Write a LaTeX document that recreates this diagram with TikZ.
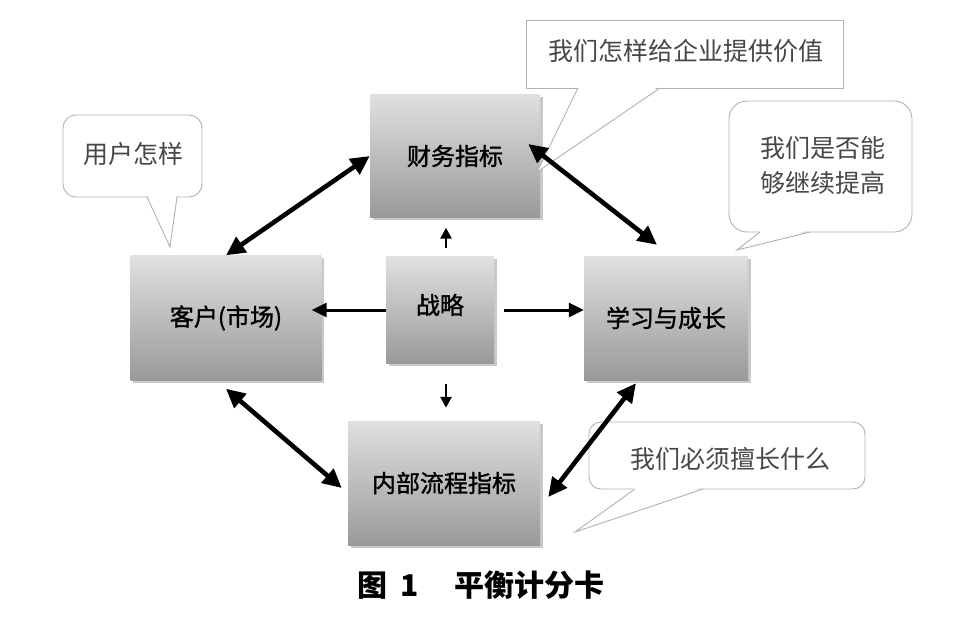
\documentclass[tikz,border=0pt]{standalone}
\usepackage{fontspec}
\newfontfamily\cjk{Noto Sans CJK SC}
\newfontfamily\cjkm[FakeBold=1.3]{Noto Sans CJK SC}
\usetikzlibrary{arrows.meta,shadows,calc}
\tikzset{
  box/.style={rectangle, draw=none, top color=black!12, bottom color=black!40,
    drop shadow={shadow xshift=2.5pt, shadow yshift=-2.5pt, fill=black!35, opacity=0.6},
    font=\cjkm\fontsize{24}{28}\selectfont, text=black, inner sep=0pt},
  dbl/.style={{Triangle[length=19pt,width=18pt]}-{Triangle[length=19pt,width=18pt]}, line width=4.6pt, black},
  onearrow/.style={-{Triangle[length=15pt,width=14pt]}, line width=3pt, black},
  smallarrow/.style={-{Triangle[length=11pt,width=11pt]}, line width=2.6pt, black},
  co/.style={draw=black!30, line width=0.9pt, fill=white},
  coline/.style={draw=black!30, line width=0.9pt},
  ctext/.style={font=\cjk\fontsize{25}{35}\selectfont, text=black!72, inner sep=0pt},
}
\begin{document}
\begin{tikzpicture}[x=1pt,y=-1pt]
\fill[white] (0,0) rectangle (969,624);
\useasboundingbox (0,0) rectangle (969,624);

% boxes
\node[box, minimum width=170pt, minimum height=123pt] (cw) at (455,156) {财务指标};
\node[box, minimum width=191pt, minimum height=125pt] (kh) at (226,318) {客户(市场)};
\node[box, minimum width=108pt, minimum height=107pt] (zl) at (440,310) {\raisebox{12pt}{战略}};
\node[box, minimum width=164pt, minimum height=124pt] (xx) at (666,318) {学习与成长};
\node[box, minimum width=192pt, minimum height=124pt] (nb) at (444,483) {内部流程指标};

% callout 1
\draw[co, rounded corners=13pt] (63,115) rectangle (202,197);
\fill[white] (148,195) -- (170,247) -- (176,195) -- cycle;
\draw[coline] (147,197) -- (170,247) -- (177,197);
\node[ctext] (c1) at (133,154) {用户怎样};

% callout 2
\draw[co] (526,20) rectangle (843,88);
\fill[white] (579,86) -- (537,172) -- (659,86) -- cycle;
\draw[coline] (578,88) -- (537,172) -- (660,88);
\node[ctext] (c2) at (686,51) {我们怎样给企业提供价值};

% callout 3
\draw[co, rounded corners=18pt] (729,101) rectangle (912,232);
\fill[white] (761,230) -- (737,250) -- (809,230) -- cycle;
\draw[coline] (760,232) -- (737,250) -- (810,232);
\node[ctext, align=center] (c3) at (823,165) {我们是否能\\够继续提高};

% callout 4
\draw[co, rounded corners=12pt] (589,422) rectangle (865,489);
\fill[white] (636,487) -- (575,532) -- (702,487) -- cycle;
\draw[coline] (635,489) -- (575,532) -- (703,489);
\node[ctext] (c4) at (730,459) {我们必须擅长什么};

% arrows
\draw[dbl] (kh.north) -- (cw.west);
\draw[dbl] ([xshift=-12pt,yshift=12pt]cw.east) -- ([xshift=-9pt,yshift=11pt]xx.north);
\draw[dbl] ([yshift=-8pt]kh.south) -- ([xshift=-6pt,yshift=-5pt]nb.west);
\draw[dbl] ([xshift=8pt,yshift=-14pt]nb.east) -- ([xshift=-30pt,yshift=-3pt]xx.south);
\draw[onearrow, shorten >=-10pt] (zl.west) -- (kh.east |- zl.west);
\draw[onearrow, shorten <=10pt] (zl.east) -- (xx.west |- zl.east);
\draw[smallarrow, shorten <=8pt, shorten >=10pt] ($(zl.north)+(6,0)$) -- ($(zl.north |- cw.south)+(6,0)$);
\draw[smallarrow, shorten <=20pt, shorten >=13pt] ($(zl.south)+(6,0)$) -- ($(zl.south |- nb.north)+(6,0)$);

% caption
\node[font=\cjk\bfseries\fontsize{30}{34}\selectfont, inner sep=0pt] (cap) at (481,585) {图\hspace{13pt}1\hspace{36pt}平衡计分卡};
\end{tikzpicture}
\end{document}
